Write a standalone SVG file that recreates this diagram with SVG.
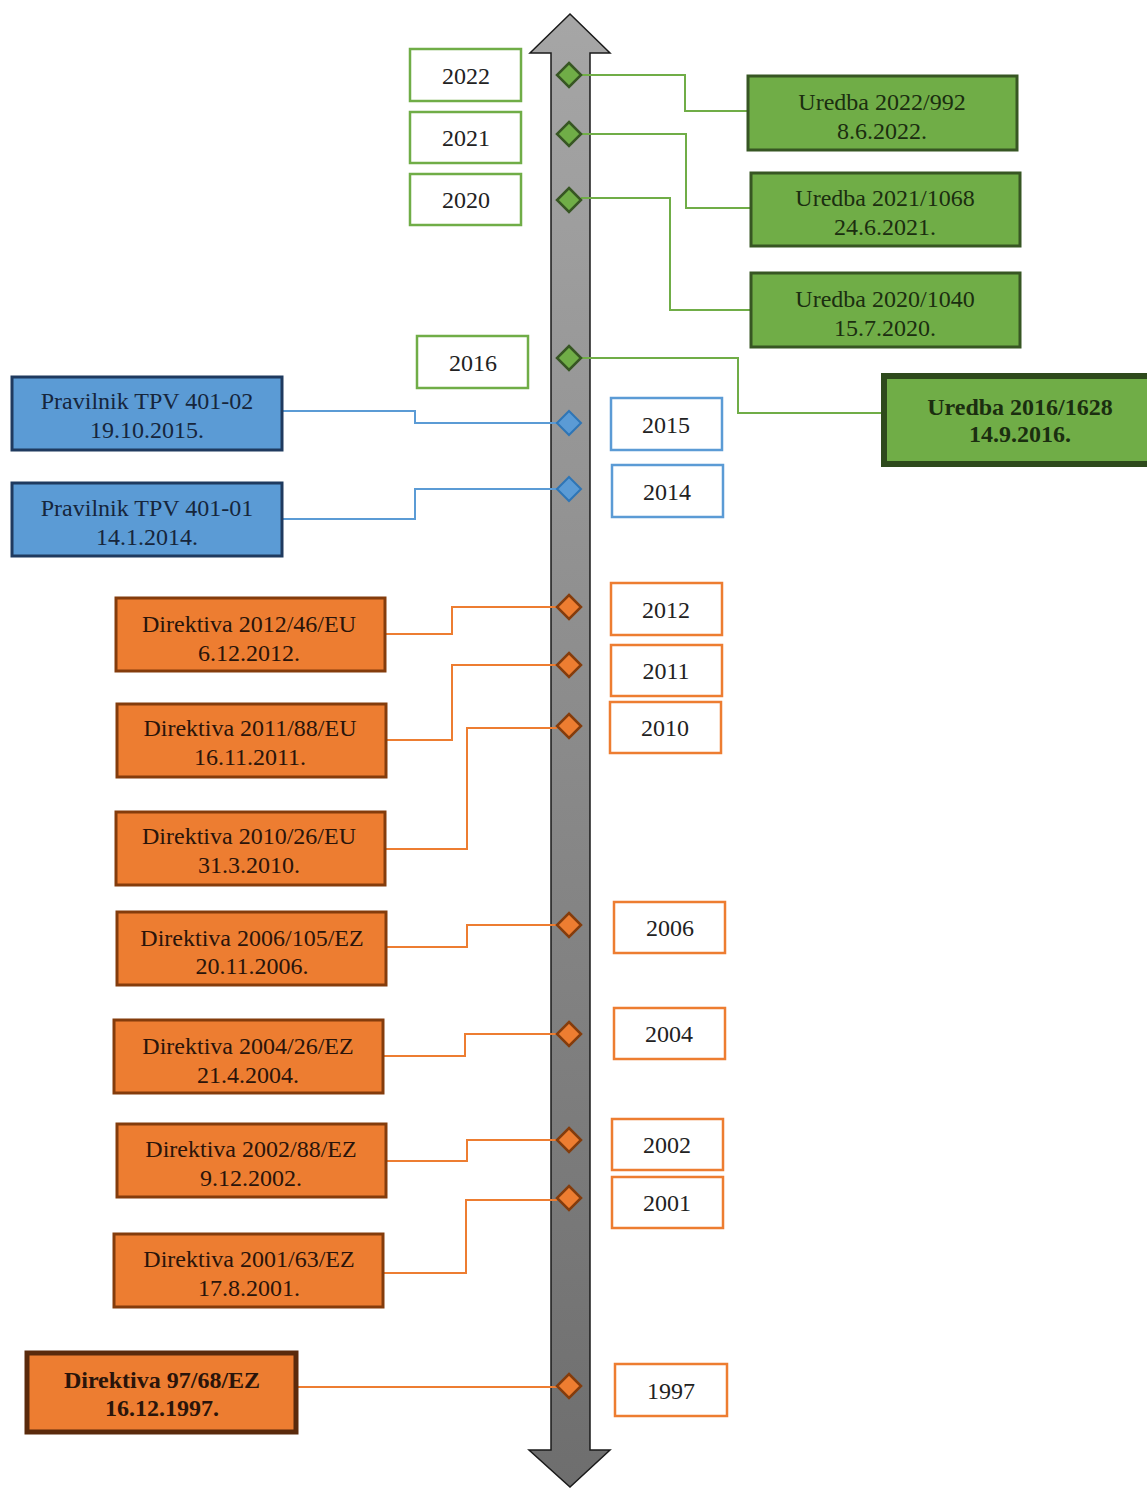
<svg xmlns="http://www.w3.org/2000/svg" width="1147" height="1488" viewBox="0 0 1147 1488">
<defs>
<linearGradient id="shaft" x1="0" y1="0" x2="0" y2="1">
<stop offset="0" stop-color="#a6a6a6"/>
<stop offset="1" stop-color="#6e6e6e"/>
</linearGradient>
<style>
text{font-family:'Liberation Serif','Times New Roman',serif;font-size:24px;text-anchor:middle}
.yr{fill:#fff;stroke-width:2.5}
.yg{stroke:#70ad47}.yb{stroke:#5b9bd5}.yo{stroke:#ed7d31}
.bg{fill:#70ad47;stroke:#375623;stroke-width:3}
.bb{fill:#5b9bd5;stroke:#1f3a5f;stroke-width:3}
.bo{fill:#ed7d31;stroke:#843c0c;stroke-width:3}
.tg{fill:#1b2e10}.tb{fill:#16263c}.to{fill:#2a140a}.ty{fill:#222}
.dg{fill:#70ad47;stroke:#375623;stroke-width:2.5}
.db{fill:#5b9bd5;stroke:#2e75b6;stroke-width:2}
.do{fill:#ed7d31;stroke:#843c0c;stroke-width:2.5}
.cg{fill:none;stroke:#70ad47;stroke-width:2}
.cb{fill:none;stroke:#5b9bd5;stroke-width:2}
.co{fill:none;stroke:#ed7d31;stroke-width:2}
.bold{font-weight:bold}
</style>
</defs>
<rect width="1147" height="1488" fill="#fff"/>
<g id="timeline">
<polygon points="570,14 610,53 590,53 590,1450 610,1450 570,1487 529,1450 551,1450 551,53 530,53" fill="url(#shaft)" stroke="#1a1a1a" stroke-width="1.5"/>
</g>
<g id="connectors">
<polyline class="cg" points="581,75 685,75 685,111 748,111"/>
<polyline class="cg" points="581,134 686,134 686,208 751,208"/>
<polyline class="cg" points="581,198 670,198 670,310 751,310"/>
<polyline class="cg" points="581,358 738,358 738,413 884,413"/>
<polyline class="cb" points="282,411 415,411 415,423 557,423"/>
<polyline class="cb" points="282,519 415,519 415,489 557,489"/>
<polyline class="co" points="385,634 452,634 452,607 557,607"/>
<polyline class="co" points="386,740 452,740 452,665 557,665"/>
<polyline class="co" points="385,849 467,849 467,728 557,728"/>
<polyline class="co" points="386,947 467,947 467,925 557,925"/>
<polyline class="co" points="383,1056 465,1056 465,1034 557,1034"/>
<polyline class="co" points="386,1161 467,1161 467,1140 557,1140"/>
<polyline class="co" points="383,1273 466,1273 466,1200 557,1200"/>
<polyline class="co" points="297,1387 557,1387"/>
</g>
<g id="diamonds">
<polygon class="dg" points="569,63 581,75 569,87 557,75"/>
<polygon class="dg" points="569,122 581,134 569,146 557,134"/>
<polygon class="dg" points="569,188 581,200 569,212 557,200"/>
<polygon class="dg" points="569,346 581,358 569,370 557,358"/>
<polygon class="db" points="569,411 581,423 569,435 557,423"/>
<polygon class="db" points="569,477 581,489 569,501 557,489"/>
<polygon class="do" points="569,595 581,607 569,619 557,607"/>
<polygon class="do" points="569,653 581,665 569,677 557,665"/>
<polygon class="do" points="569,714 581,726 569,738 557,726"/>
<polygon class="do" points="569,913 581,925 569,937 557,925"/>
<polygon class="do" points="569,1022 581,1034 569,1046 557,1034"/>
<polygon class="do" points="569,1128 581,1140 569,1152 557,1140"/>
<polygon class="do" points="569,1186 581,1198 569,1210 557,1198"/>
<polygon class="do" points="569,1374 581,1386 569,1398 557,1386"/>
</g>
<g id="y2022"><rect class="yr yg" x="410" y="49" width="111" height="52"/><text class="ty" x="466" y="84">2022</text></g>
<g id="y2021"><rect class="yr yg" x="410" y="112" width="111" height="51"/><text class="ty" x="466" y="146">2021</text></g>
<g id="y2020"><rect class="yr yg" x="410" y="174" width="111" height="51"/><text class="ty" x="466" y="208">2020</text></g>
<g id="y2016"><rect class="yr yg" x="417" y="336" width="111" height="52"/><text class="ty" x="473" y="371">2016</text></g>
<g id="y2015"><rect class="yr yb" x="611" y="398" width="111" height="52"/><text class="ty" x="666" y="433">2015</text></g>
<g id="y2014"><rect class="yr yb" x="612" y="465" width="111" height="52"/><text class="ty" x="667" y="500">2014</text></g>
<g id="y2012"><rect class="yr yo" x="611" y="583" width="111" height="52"/><text class="ty" x="666" y="618">2012</text></g>
<g id="y2011"><rect class="yr yo" x="611" y="645" width="111" height="51"/><text class="ty" x="666" y="679">2011</text></g>
<g id="y2010"><rect class="yr yo" x="610" y="702" width="111" height="51"/><text class="ty" x="665" y="736">2010</text></g>
<g id="y2006"><rect class="yr yo" x="614" y="902" width="111" height="51"/><text class="ty" x="670" y="936">2006</text></g>
<g id="y2004"><rect class="yr yo" x="614" y="1008" width="111" height="51"/><text class="ty" x="669" y="1042">2004</text></g>
<g id="y2002"><rect class="yr yo" x="612" y="1119" width="111" height="51"/><text class="ty" x="667" y="1153">2002</text></g>
<g id="y2001"><rect class="yr yo" x="612" y="1177" width="111" height="51"/><text class="ty" x="667" y="1211">2001</text></g>
<g id="y1997"><rect class="yr yo" x="615" y="1364" width="112" height="52"/><text class="ty" x="671" y="1399">1997</text></g>
<g id="u2022"><rect class="bg" x="748" y="76" width="269" height="74"/><text class="tg" x="882" y="110">Uredba 2022/992</text><text class="tg" x="882" y="139">8.6.2022.</text></g>
<g id="u2021"><rect class="bg" x="751" y="173" width="269" height="73"/><text class="tg" x="885" y="206">Uredba 2021/1068</text><text class="tg" x="885" y="235">24.6.2021.</text></g>
<g id="u2020"><rect class="bg" x="751" y="273" width="269" height="74"/><text class="tg" x="885" y="307">Uredba 2020/1040</text><text class="tg" x="885" y="336">15.7.2020.</text></g>
<g id="u2016"><rect x="884" y="376" width="266" height="88" fill="#70ad47" stroke="#2e4a1c" stroke-width="6"/><text class="tg bold" x="1020" y="415">Uredba 2016/1628</text><text class="tg bold" x="1020" y="442">14.9.2016.</text></g>
<g id="p2015"><rect class="bb" x="12" y="377" width="270" height="73"/><text class="tb" x="147" y="409">Pravilnik TPV 401-02</text><text class="tb" x="147" y="438">19.10.2015.</text></g>
<g id="p2014"><rect class="bb" x="12" y="483" width="270" height="73"/><text class="tb" x="147" y="516">Pravilnik TPV 401-01</text><text class="tb" x="147" y="545">14.1.2014.</text></g>
<g id="d2012"><rect class="bo" x="116" y="598" width="269" height="73"/><text class="to" x="249" y="632">Direktiva 2012/46/EU</text><text class="to" x="249" y="661">6.12.2012.</text></g>
<g id="d2011"><rect class="bo" x="117" y="704" width="269" height="73"/><text class="to" x="250" y="736">Direktiva 2011/88/EU</text><text class="to" x="250" y="765">16.11.2011.</text></g>
<g id="d2010"><rect class="bo" x="116" y="812" width="269" height="73"/><text class="to" x="249" y="844">Direktiva 2010/26/EU</text><text class="to" x="249" y="873">31.3.2010.</text></g>
<g id="d2006"><rect class="bo" x="117" y="912" width="269" height="73"/><text class="to" x="252" y="946">Direktiva 2006/105/EZ</text><text class="to" x="252" y="974">20.11.2006.</text></g>
<g id="d2004"><rect class="bo" x="114" y="1020" width="269" height="73"/><text class="to" x="248" y="1054">Direktiva 2004/26/EZ</text><text class="to" x="248" y="1083">21.4.2004.</text></g>
<g id="d2002"><rect class="bo" x="117" y="1124" width="269" height="73"/><text class="to" x="251" y="1157">Direktiva 2002/88/EZ</text><text class="to" x="251" y="1186">9.12.2002.</text></g>
<g id="d2001"><rect class="bo" x="114" y="1234" width="269" height="73"/><text class="to" x="249" y="1267">Direktiva 2001/63/EZ</text><text class="to" x="249" y="1296">17.8.2001.</text></g>
<g id="d1997"><rect x="27" y="1353" width="269" height="79" fill="#ed7d31" stroke="#5a2a0c" stroke-width="5"/><text class="to bold" x="162" y="1388">Direktiva 97/68/EZ</text><text class="to bold" x="162" y="1416">16.12.1997.</text></g>
</svg>
